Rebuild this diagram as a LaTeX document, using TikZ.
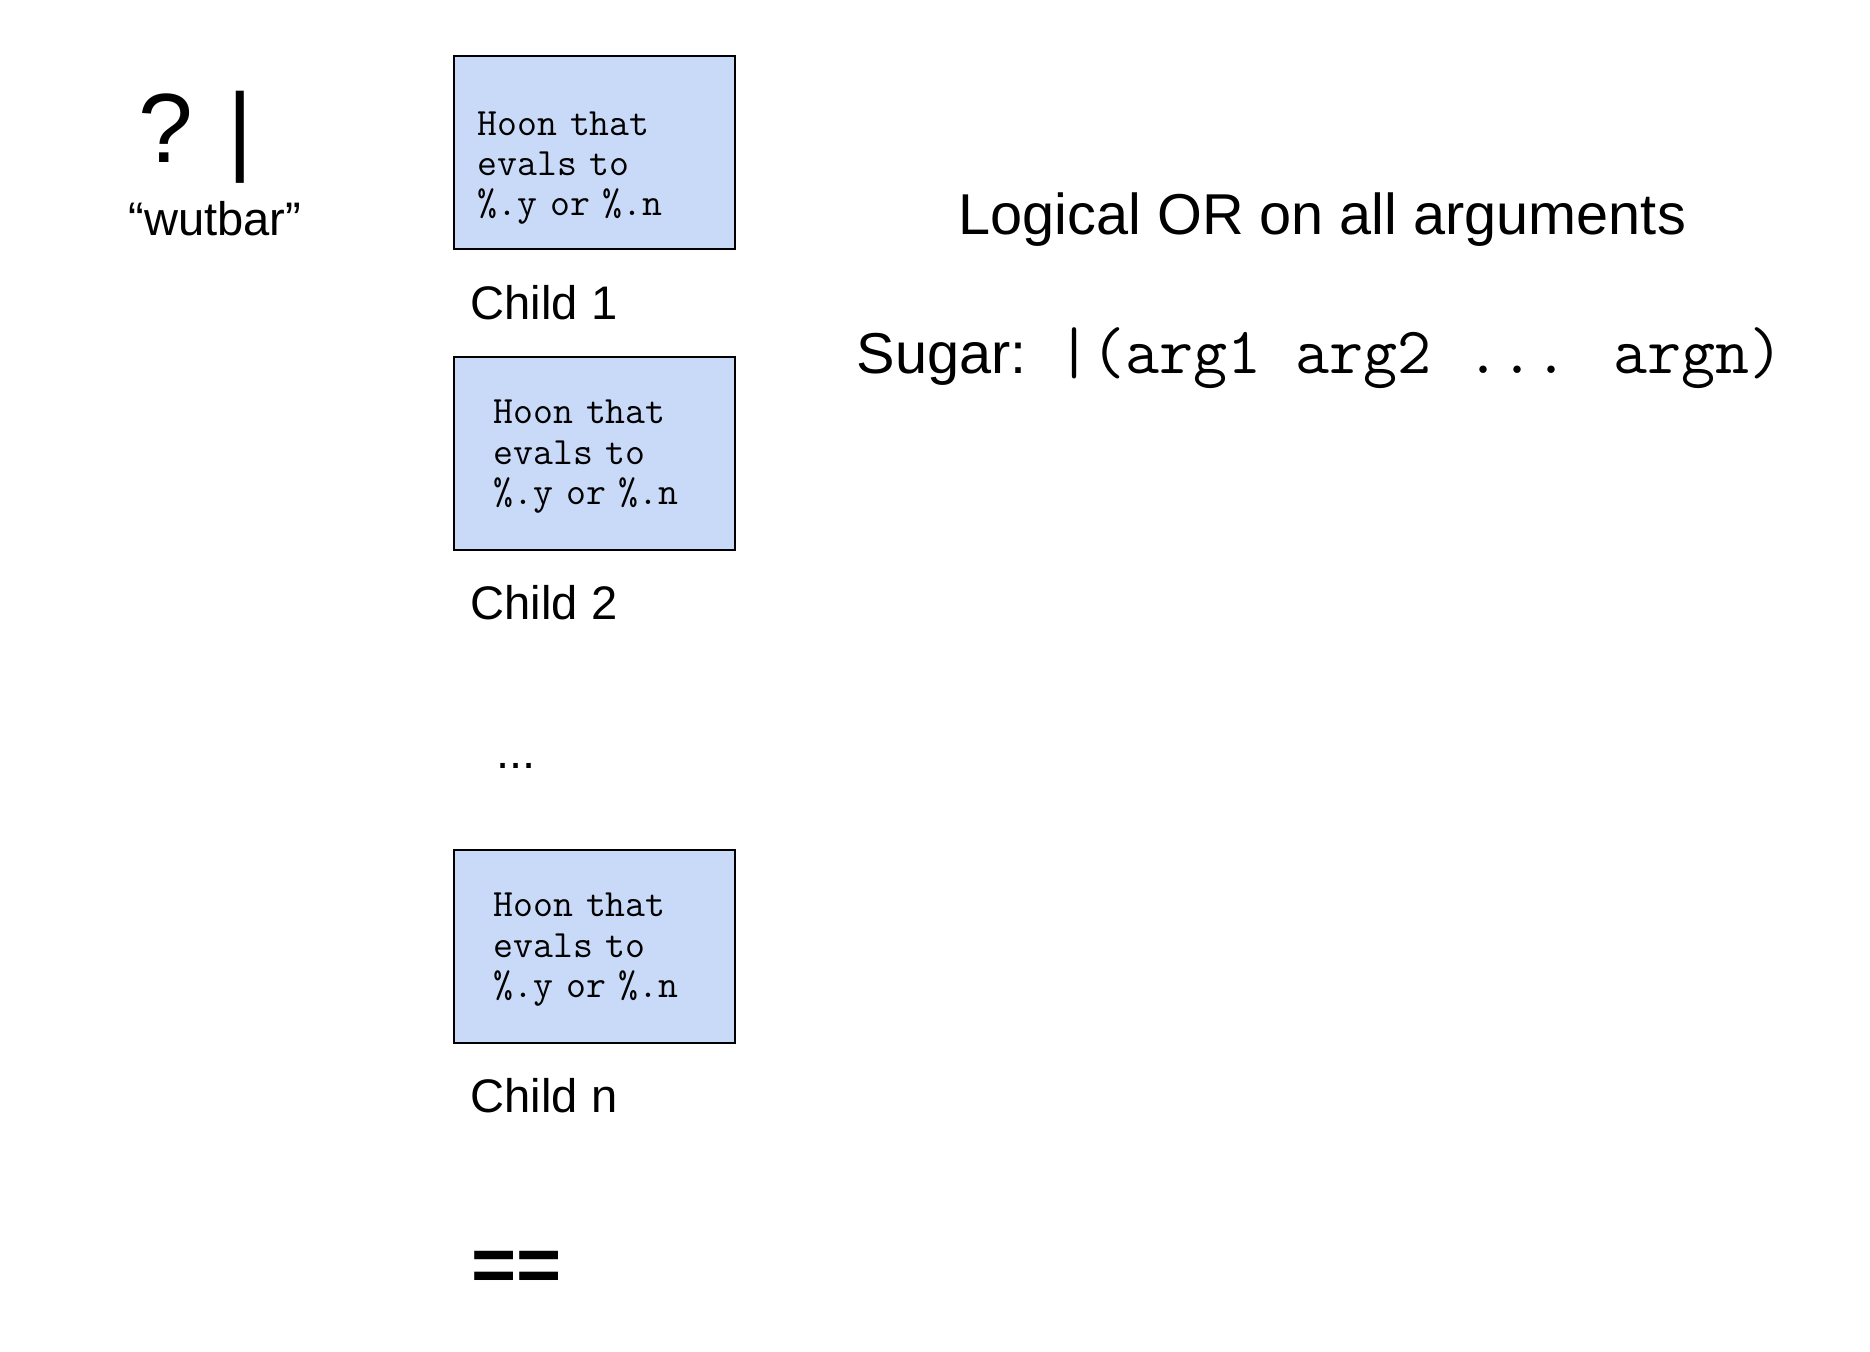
\documentclass[tikz,border=0pt]{standalone}
\usepackage{fontspec}
\setmainfont{Liberation Sans}
\usetikzlibrary{positioning}
\definecolor{hoonblue}{HTML}{C9DAF8}
\tikzset{hoon/.style = {draw, fill=hoonblue, line width=0.8pt,
                        minimum width=2.81cm, minimum height=1.93cm,
                        text width=2.02cm, text height=0.30cm, align=left,
                        font=\fontsize{11}{11.5}\selectfont\ttfamily}}
\tikzset{lbl/.style = {inner sep=0pt, anchor=base west,
                       font=\fontsize{13.4}{16}\selectfont}}

\begin{document}
\begin{tikzpicture}
      \useasboundingbox (0, 0) rectangle (18.70, -13.52);
      % rune and its name
      \node [lbl, font=\fontsize{28}{30}\selectfont] (rune) at (1.38, -1.63) {?\kern0.35em|};
      \node [lbl, anchor=base] (runename) at (2.15, -2.36) {``wutbar''};
      % children
      \node [hoon, text width=2.34cm, text height=0.55cm] (child1) at (5.945, -1.525) {Hoon that\\evals to\\\%.y or \%.n};
      \node [lbl] (name1) at (4.70, -3.20) {Child 1};
      \node [hoon] (child2) at (5.945, -4.535) {Hoon that\\evals to\\\%.y or \%.n};
      \node [lbl] (name2) at (4.70, -6.20) {Child 2};
      \node [lbl] (dots) at (4.96, -7.69) {...};
      \node [hoon] (childn) at (5.945, -9.465) {Hoon that\\evals to\\\%.y or \%.n};
      \node [lbl] (namen) at (4.70, -11.13) {Child n};
      \node [lbl, font=\fontsize{22}{24}\selectfont\bfseries] (close) at (4.71, -12.92) {==};
      % description
      \node [lbl, font=\fontsize{16.4}{20}\selectfont] (desc) at (9.58, -2.35) {Logical OR on all arguments};
      \node [lbl, font=\fontsize{16.4}{20}\selectfont] (sugar) at (8.56, -3.74) {Sugar:};
      \node [lbl, font=\fontsize{18.8}{20}\selectfont\ttfamily] (form) at (10.57, -3.74) {|(arg1 arg2 ... argn)};
    \end{tikzpicture}
\end{document}
